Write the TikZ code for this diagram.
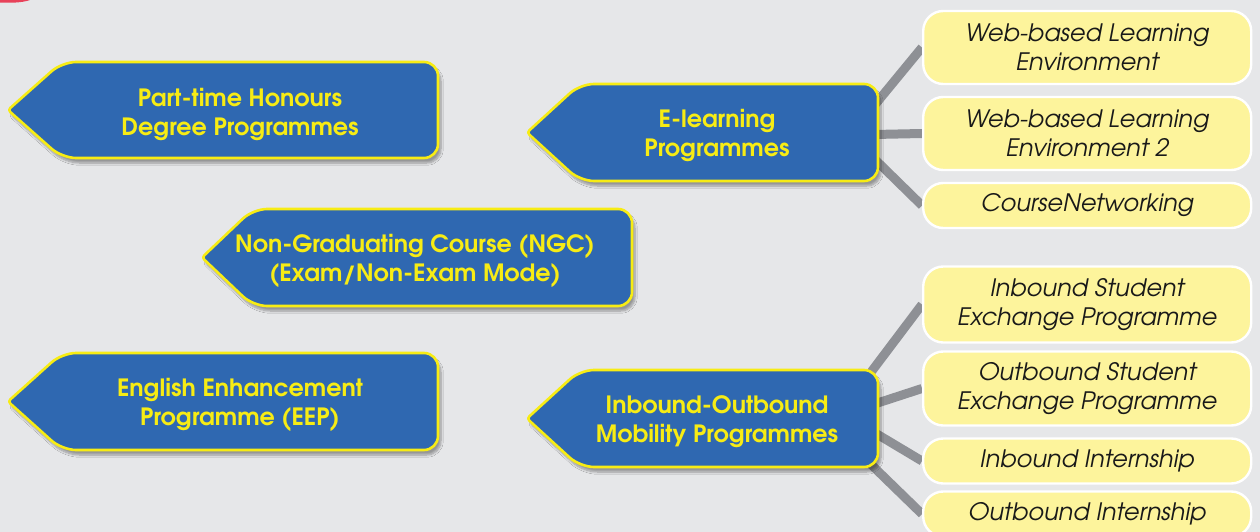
\documentclass[tikz,border=0pt]{standalone}
\usepackage{fontspec}
\setmainfont{texgyreadventor}[Extension=.otf, UprightFont=*-regular, BoldFont=*-bold, ItalicFont=*-italic, BoldItalicFont=*-bolditalic]
\usetikzlibrary{shadows.blur}
\definecolor{bluefill}{HTML}{2F68B1}
\definecolor{ylw}{HTML}{F7EC14}
\definecolor{pillfill}{HTML}{FDF49C}
\definecolor{conn}{HTML}{8E9095}
\definecolor{bgc}{HTML}{E6E7E9}
\definecolor{redbit}{HTML}{E8425A}
\tikzset{
  blueshape/.style={fill=bluefill, draw=ylw, line width=2.6pt, line join=round,
    blur shadow={shadow xshift=3pt, shadow yshift=-5pt, shadow blur steps=8, shadow opacity=35}},
  bluetext/.style={text=ylw, font=\fontsize{23.8}{29}\selectfont\bfseries, align=center, inner sep=0pt},
  pill/.style={fill=pillfill, draw=white, line width=2.4pt, rounded corners=20pt,
    minimum width=328pt, inner sep=0pt, align=center, anchor=west,
    font=\fontsize{24}{28.5}\selectfont\itshape, text=black!90},
  connector/.style={draw=conn, line width=9pt}
}
% #1 tip x, #2 left x, #3 right x, #4 top y, #5 bottom y
\newcommand\arrowshape[5]{%
  \path[blueshape] (#2,#4) [rounded corners=14pt] -- (#3,#4) -- (#3,#5) -- (#2,#5) [rounded corners=3pt] -- (#1,{(#4+#5)/2}) [rounded corners=14pt] -- cycle;}
\begin{document}
\begin{tikzpicture}[x=1pt,y=-1pt]
\useasboundingbox (0,0) rectangle (1260,532);
\fill[bgc] (0,0) rectangle (1260,532);
\fill[redbit] (0,0) -- (30,0) .. controls (22,3) and (8,3) .. (0,2.5) -- cycle;

% pill attachment points (west side of each pill)
\coordinate (w1w) at (922,47.5);
\coordinate (w2w) at (922,133.5);
\coordinate (cnw) at (922,205.5);
\coordinate (ibsw) at (922,304.5);
\coordinate (obsw) at (922,388.5);
\coordinate (iiw) at (922,461);
\coordinate (oiw) at (922,514);

% hubs inside the blue arrows
\coordinate (elhub) at (850,135);
\coordinate (moba) at (850,400);
\coordinate (mobb) at (850,412);
\coordinate (mobc) at (850,418);
\coordinate (mobd) at (850,444);

% connectors
\draw[connector] (elhub) -- (w1w);
\draw[connector] (elhub) -- (w2w);
\draw[connector] (elhub) -- (cnw);
\draw[connector] (moba) -- (ibsw);
\draw[connector] (mobb) -- (obsw);
\draw[connector] (mobc) -- (iiw);
\draw[connector] (mobd) -- (oiw);

% pills
\node[pill, minimum height=73pt] (w1) at (w1w) {Web-based Learning\\Environment};
\node[pill, minimum height=73pt] (w2) at (w2w) {Web-based Learning\\Environment 2};
\node[pill, minimum height=45pt] (cn) at (cnw) {CourseNetworking};
\node[pill, minimum height=76pt] (ibs) at (ibsw) {Inbound Student\\Exchange Programme};
\node[pill, minimum height=74pt] (obs) at (obsw) {Outbound Student\\Exchange Programme};
\node[pill, minimum height=45pt] (ii) at (iiw) {Inbound Internship};
\node[pill, minimum height=45pt] (oi) at (oiw) {Outbound Internship};

% blue arrows
\arrowshape{8}{62}{438}{62}{158}
\node[bluetext] (pt) at (240,115) {Part-time Honours\\Degree Programmes};
\arrowshape{527}{580}{878}{84}{181}
\node[bluetext] (el) at (717,136) {E-learning\\Programmes};
\arrowshape{202}{253}{632}{209}{306}
\node[bluetext] (ngc) at (415,261) {Non-Graduating Course (NGC)\\(Exam/Non-Exam Mode)};
\arrowshape{8}{62}{438}{353}{450}
\node[bluetext] (eep) at (240,405) {English Enhancement\\Programme (EEP)};
\arrowshape{527}{580}{878}{370}{467}
\node[bluetext] (mob) at (717,422) {Inbound-Outbound\\Mobility Programmes};
\end{tikzpicture}
\end{document}
